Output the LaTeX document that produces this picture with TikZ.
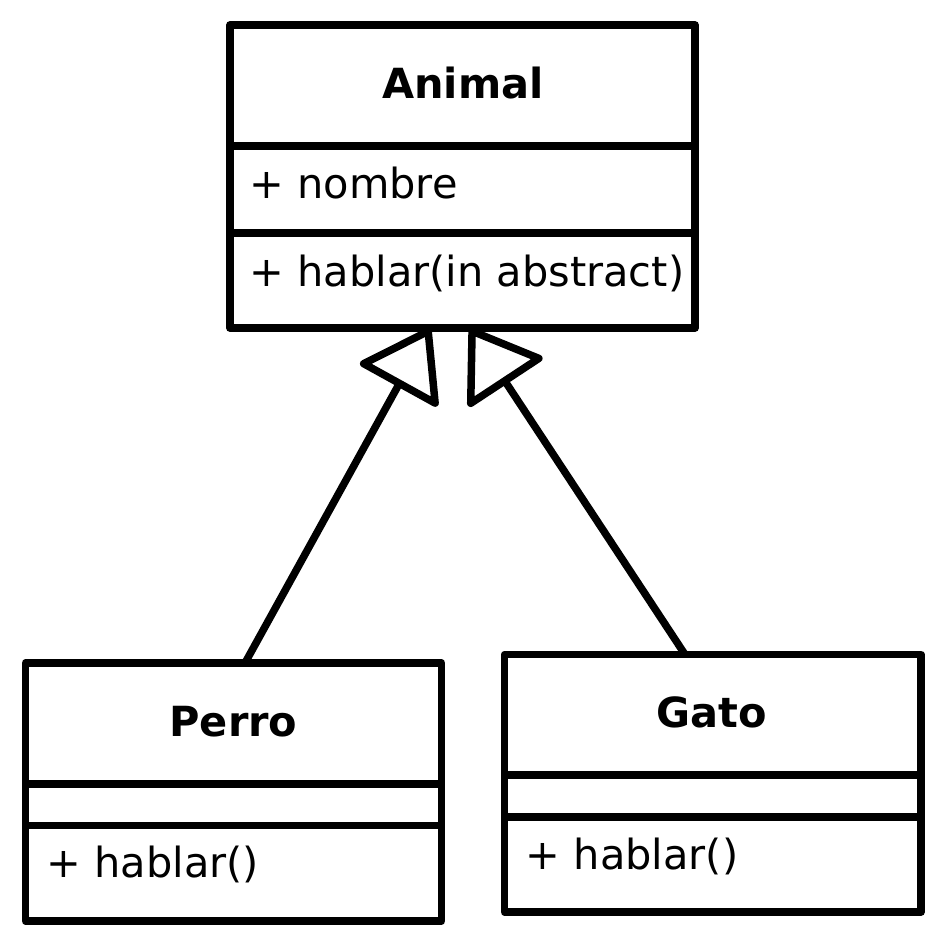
\documentclass[tikz,border=0pt]{standalone}
\usepackage{fontspec}
\setmainfont{DejaVu Sans}
\usetikzlibrary{arrows.meta}
\begin{document}
\begin{tikzpicture}[x=1pt,y=-1pt,
  umlbox/.style={draw=black, line width=7.5pt, line join=round, rectangle, inner sep=0pt, outer sep=0pt},
  divider/.style={draw=black, line width=7.5pt},
  classname/.style={inner sep=0pt, anchor=base, font=\fontsize{41.5pt}{50pt}\selectfont\bfseries},
  member/.style={inner sep=0pt, anchor=base west, font=\fontsize{41.5pt}{50pt}\selectfont},
  inherit/.style={draw=black, line width=7.5pt, line join=round,
    -{Triangle[open, round, length=70pt, width=94pt]}}]
\useasboundingbox (0,0) rectangle (942,942);
% Animal
\node[umlbox, minimum width=465pt, minimum height=303pt] (animal) at (462.5,176.5) {};
\draw[divider] (animal.west |- 0,146) -- (animal.east |- 0,146);
\draw[divider] (animal.west |- 0,233) -- (animal.east |- 0,233);
\node[classname] (animalname) at (463,99) {Animal};
\node[member] (animalattr) at (249.3,198) {+ nombre};
\node[member] (animalop) at (249.3,286) {+ hablar(in abstract)};
% Perro
\node[umlbox, minimum width=416pt, minimum height=258pt] (perro) at (233.5,792) {};
\draw[divider] (perro.west |- 0,784) -- (perro.east |- 0,784);
\draw[divider] (perro.west |- 0,825.5) -- (perro.east |- 0,825.5);
\node[classname] (perroname) at (233.5,736) {Perro};
\node[member] (perroop) at (46.3,877) {+ hablar()};
% Gato
\node[umlbox, minimum width=416.5pt, minimum height=257.5pt] (gato) at (712.75,783.25) {};
\draw[divider] (gato.west |- 0,775) -- (gato.east |- 0,775);
\draw[divider] (gato.west |- 0,817) -- (gato.east |- 0,817);
\node[classname] (gatoname) at (712,727.3) {Gato};
\node[member] (gatoop) at (525.6,869.3) {+ hablar()};
% connectors
\coordinate (perrotop) at (245,663);
\coordinate (gatotop) at (685,654.5);
\coordinate (tipP) at (430,328);
\coordinate (tipG) at (470,328);
\draw[inherit] (perrotop) -- (tipP);
\draw[inherit] (gatotop) -- (tipG);
\end{tikzpicture}
\end{document}
